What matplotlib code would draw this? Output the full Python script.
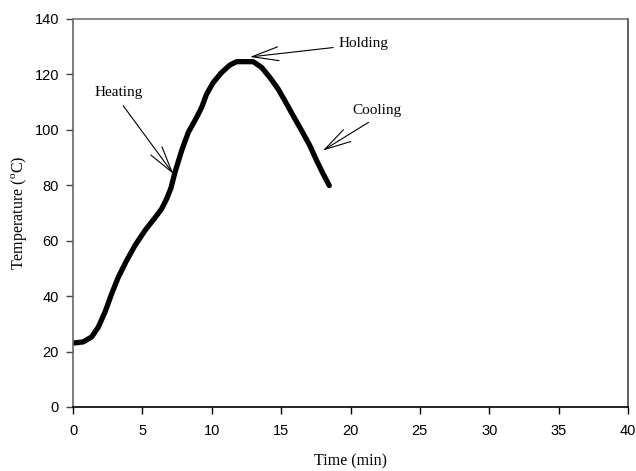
import matplotlib
matplotlib.use("Agg")
import matplotlib.pyplot as plt

# Data
time_min = [0.09, 0.74, 1.35, 1.83, 2.31, 2.79, 3.27, 3.87, 4.47, 5.19, 5.91,
            6.39, 6.75, 7.06, 7.35, 7.83, 8.31, 8.91, 9.27, 9.63, 10.11, 10.71,
            11.31, 11.79, 12.3, 12.99, 13.6, 14.19, 14.79, 15.27, 15.87, 16.48,
            17.07, 17.56, 18.03, 18.47]
temperature = [23.1, 23.5, 25.3, 28.9, 34.3, 40.9, 46.9, 52.9, 58.3, 63.7, 68.3,
               71.5, 75.1, 79.0, 84.7, 92.5, 99.1, 104.5, 108.1, 112.9, 117.1,
               120.7, 123.4, 124.6, 124.6, 124.6, 122.5, 118.9, 114.7, 110.5,
               105.1, 99.7, 94.3, 88.9, 84.1, 79.9]
x_ticks = [0, 5, 10, 15, 20, 25, 30, 35, 40]
y_ticks = [0, 20, 40, 60, 80, 100, 120, 140]
x_label = "Time (min)"
y_label = r"Temperature ($^{\rm o}$C)"

labels = ["Heating", "Holding", "Cooling"]
label_xy = [(3.3, 113.3), (20.9, 131.0), (21.9, 107.0)]
arrow_tail = [(3.62, 108.7), (18.75, 129.7), (21.3, 102.7)]
arrow_tip = [(7.23, 84.1), (12.75, 126.3), (18.0, 92.5)]

plt.rcParams["mathtext.fontset"] = "custom"
plt.rcParams["mathtext.rm"] = "Liberation Serif"

fig = plt.figure(figsize=(6.36, 4.71), dpi=100)
ax = fig.add_axes([73 / 636, 1 - 407 / 471, (628 - 73) / 636, (407 - 19) / 471])

ax.plot(time_min, temperature, color="black", linewidth=3.8,
        solid_capstyle="round", solid_joinstyle="round")

ax.set_xlim(0, 40)
ax.set_ylim(0, 140)
ax.set_xticks(x_ticks)
ax.set_yticks(y_ticks)

tick_font = {"family": "Liberation Sans", "size": 10.5}
ax.set_xticklabels([str(t) for t in x_ticks], **tick_font)
ax.set_yticklabels([str(t) for t in y_ticks], **tick_font)
ax.tick_params(axis="x", direction="out", length=5, width=1, pad=7, color="black")
ax.tick_params(axis="y", direction="out", length=5, width=1, pad=5, color="#444444")

for side, col in [("left", "#666666"), ("top", "#777777"), ("right", "#444444"), ("bottom", "black")]:
    ax.spines[side].set_color(col)
    ax.spines[side].set_linewidth(1.2)

ax.set_xlabel(x_label, family="Liberation Serif", size=11.5, labelpad=11)
ax.set_ylabel(y_label, family="Liberation Serif", size=11.5, labelpad=4)

for lab, lxy, tail, tip in zip(labels, label_xy, arrow_tail, arrow_tip):
    ax.text(lxy[0], lxy[1], lab, family="Liberation Serif", size=11,
            ha="center", va="center")
    ax.annotate("", xy=tip, xytext=tail,
                arrowprops=dict(arrowstyle="->,head_length=1.9,head_width=0.5",
                                color="black", lw=0.8, mutation_scale=10,
                                shrinkA=0, shrinkB=0))

fig.savefig("out.png", dpi=100)
